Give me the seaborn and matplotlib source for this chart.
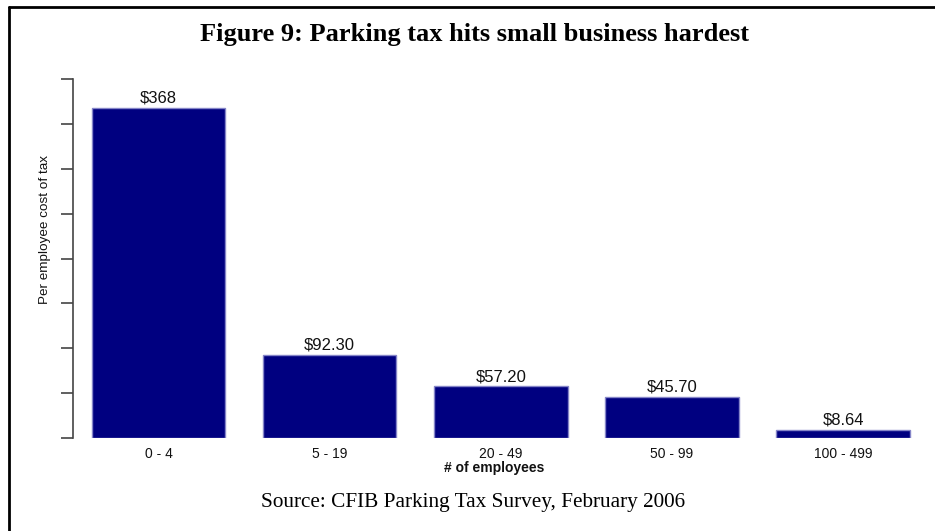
import matplotlib
matplotlib.use("Agg")
import matplotlib.pyplot as plt
from matplotlib.lines import Line2D
import seaborn as sns
import pandas as pd

# Per-employee cost of the parking tax by firm size
size_groups = ["0 - 4", "5 - 19", "20 - 49", "50 - 99", "100 - 499"]
cost_per_employee = [368, 92.30, 57.20, 45.70, 8.64]
value_labels = ["$368", "$92.30", "$57.20", "$45.70", "$8.64"]
y_ticks = [0, 50, 100, 150, 200, 250, 300, 350, 400]

title_text = "Figure 9: Parking tax hits small business hardest"
source_text = "Source: CFIB Parking Tax Survey, February 2006"

sns.set_theme(style="white")
plt.rcParams["font.family"] = ["Liberation Sans", "DejaVu Sans"]

df = pd.DataFrame({"size": size_groups, "cost": cost_per_employee})

W, H = 935, 531
fig = plt.figure(figsize=(W / 100, H / 100), dpi=100)
fig.patch.set_facecolor("white")

ax = fig.add_axes([72.7 / W, 1 - 437.7 / H, (915 - 72.7) / W, (437.7 - 79.3) / H])
sns.barplot(data=df, x="size", y="cost", color="#000080", saturation=1,
            width=0.78, edgecolor="#8585c8", linewidth=1, ax=ax)

ax.set_xlim(-0.502, 4.42)
ax.set_ylim(0, 400)
ax.set_yticks(y_ticks)
ax.set_yticklabels([])
for side in ["top", "right", "bottom"]:
    ax.spines[side].set_visible(False)
ax.spines["left"].set_color("#444444")
ax.spines["left"].set_linewidth(1.2)
ax.tick_params(axis="y", left=True, length=8.5, width=1.2, color="#444444")
ax.tick_params(axis="x", bottom=False, labelsize=10, pad=0.5, labelcolor="#111111")
ax.set_facecolor("white")
ax.grid(False)

ax.set_xlabel("# of employees", fontsize=10, fontweight="bold", labelpad=0.5, color="#111111")
ax.set_ylabel("")

for i, (v, lab) in enumerate(zip(cost_per_employee, value_labels)):
    ax.annotate(lab, (i, v), xytext=(0, 1.5), textcoords="offset points",
                ha="center", va="bottom", fontsize=12, color="#111111")

fig.text(45 / W, 1 - 229.5 / H, "Per employee cost of tax", rotation=90,
         ha="center", va="center", fontsize=9.7, color="#111111")

fig.text(474 / W, 1 - 35 / H, title_text, ha="center", va="center", color="black",
         fontsize=19, fontweight="bold", family=["Liberation Serif", "DejaVu Serif"])
fig.text(473 / W, 1 - 503 / H, source_text, ha="center", va="center", color="black",
         fontsize=15.3, family=["Liberation Serif", "DejaVu Serif"])

# Frame lines along the left and top of the figure
fig.add_artist(Line2D([9 / W, 9 / W], [0, 1 - 6.5 / H], transform=fig.transFigure,
                      color="black", linewidth=2))
fig.add_artist(Line2D([9 / W, 1], [1 - 6.5 / H, 1 - 6.5 / H], transform=fig.transFigure,
                      color="black", linewidth=2))

fig.savefig("out.png", dpi=100, facecolor="white")
